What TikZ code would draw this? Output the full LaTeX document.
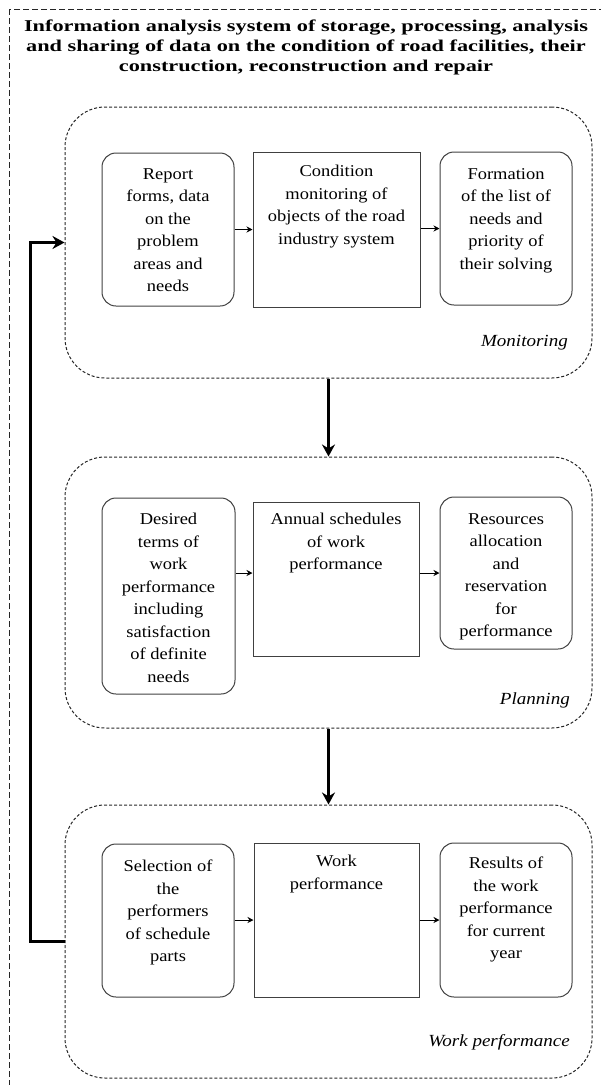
\documentclass[tikz,border=0pt]{standalone}
\usepackage{fontspec}
\setmainfont{Liberation Serif}
\newfontfamily\bodyfont[FakeStretch=1.12]{Liberation Serif}
\newfontfamily\titlefont[FakeStretch=1.35]{Liberation Serif}
\usetikzlibrary{arrows.meta}
\begin{document}
\begin{tikzpicture}[x=1pt,y=-1pt,
  container/.style={draw=black!85, dash pattern=on 3pt off 2pt, line width=1pt, rounded corners=40pt, inner sep=0pt},
  roundbox/.style={draw=black!75, line width=1pt, rounded corners=14pt, inner sep=0pt},
  squarebox/.style={draw=black!75, line width=1pt, inner sep=0pt},
  boxtext/.style={font=\bodyfont\fontsize{16.5}{22.5}\selectfont, align=center, anchor=north, inner sep=0pt, text=black},
  phase/.style={font=\bodyfont\itshape\fontsize{17}{20}\selectfont, anchor=east, inner sep=0pt},
  titletext/.style={font=\titlefont\bfseries\fontsize{16.5}{20}\selectfont, align=center, anchor=north, inner sep=0pt},
  small/.style={-{Stealth[length=6pt,width=6pt]}, line width=0.9pt},
  big/.style={-{Stealth[length=12pt,width=13pt]}, line width=3pt},
]
\useasboundingbox (0,0) rectangle (601,1085);
\clip (0,0) rectangle (601,1085);
\draw[dash pattern=on 6pt off 3pt, line width=1pt, black!85] (9,9) rectangle (700,1200);
\node[titletext] (title) at (306,20) {Information analysis system of storage, processing, analysis\\and sharing of data on the condition of road facilities, their\\construction, reconstruction and repair};

% containers
\node[container, minimum width=527pt, minimum height=271pt] (mon) at (328.5,242.5) {};
\node[container, minimum width=527pt, minimum height=271pt] (plan) at (328.5,592.5) {};
\node[container, minimum width=527pt, minimum height=273pt] (work) at (328.5,941.5) {};

% monitoring boxes
\node[roundbox, minimum width=132pt, minimum height=153pt] (m1) at (168,229.5) {};
\node[squarebox, minimum width=167pt, minimum height=155pt] (m2) at (336.5,229.5) {};
\node[roundbox, minimum width=132pt, minimum height=153pt] (m3) at (506,228.5) {};
\node[boxtext] (m1t) at (168,168) {Report\\forms, data\\on the\\problem\\areas and\\needs};
\node[boxtext] (m2t) at (336.5,165) {Condition\\monitoring of\\objects of the road\\industry system};
\node[boxtext] (m3t) at (506,168) {Formation\\of the list of\\needs and\\priority of\\their solving};
\node[phase] (monl) at (568,343) {Monitoring};

% planning boxes
\node[roundbox, minimum width=133pt, minimum height=196pt] (p1) at (168.5,596) {};
\node[squarebox, minimum width=166pt, minimum height=154pt] (p2) at (336,579) {};
\node[roundbox, minimum width=132pt, minimum height=152pt] (p3) at (506,573) {};
\node[boxtext] (p1t) at (168.5,513) {Desired\\terms of\\work\\performance\\including\\satisfaction\\of definite\\needs};
\node[boxtext] (p2t) at (336,513) {Annual schedules\\of work\\performance};
\node[boxtext] (p3t) at (506,513) {Resources\\allocation\\and\\reservation\\for\\performance};
\node[phase] (planl) at (570,700) {Planning};

% work boxes
\node[roundbox, minimum width=132pt, minimum height=153pt] (w1) at (168,920.5) {};
\node[squarebox, minimum width=165pt, minimum height=154pt] (w2) at (336.5,920) {};
\node[roundbox, minimum width=132pt, minimum height=154pt] (w3) at (506,920) {};
\node[boxtext] (w1t) at (168,860) {Selection of\\the\\performers\\of schedule\\parts};
\node[boxtext] (w2t) at (336.5,855) {Work\\performance};
\node[boxtext] (w3t) at (506,857) {Results of\\the work\\performance\\for current\\year};
\node[phase] (workl) at (570,1042) {Work performance};

% small arrows
\draw[small] (m1.east) -- (m2.west |- m1.east);
\draw[small] (m2.east |- m3.east) -- (m3.west);
\draw[small] (p1.east |- p3.east) -- (p2.west |- p3.east);
\draw[small] (p2.east |- p3.east) -- (p3.west);
\draw[small] (w1.east |- w2.center) -- (w2.west);
\draw[small] (w2.east) -- (w3.west);

% big arrows
\draw[big] (mon.south) -- (plan.north);
\draw[big] (plan.south) -- (work.north);
\draw[big] (work.west) -- ++(-34,0) |- (mon.west);
\end{tikzpicture}
\end{document}
